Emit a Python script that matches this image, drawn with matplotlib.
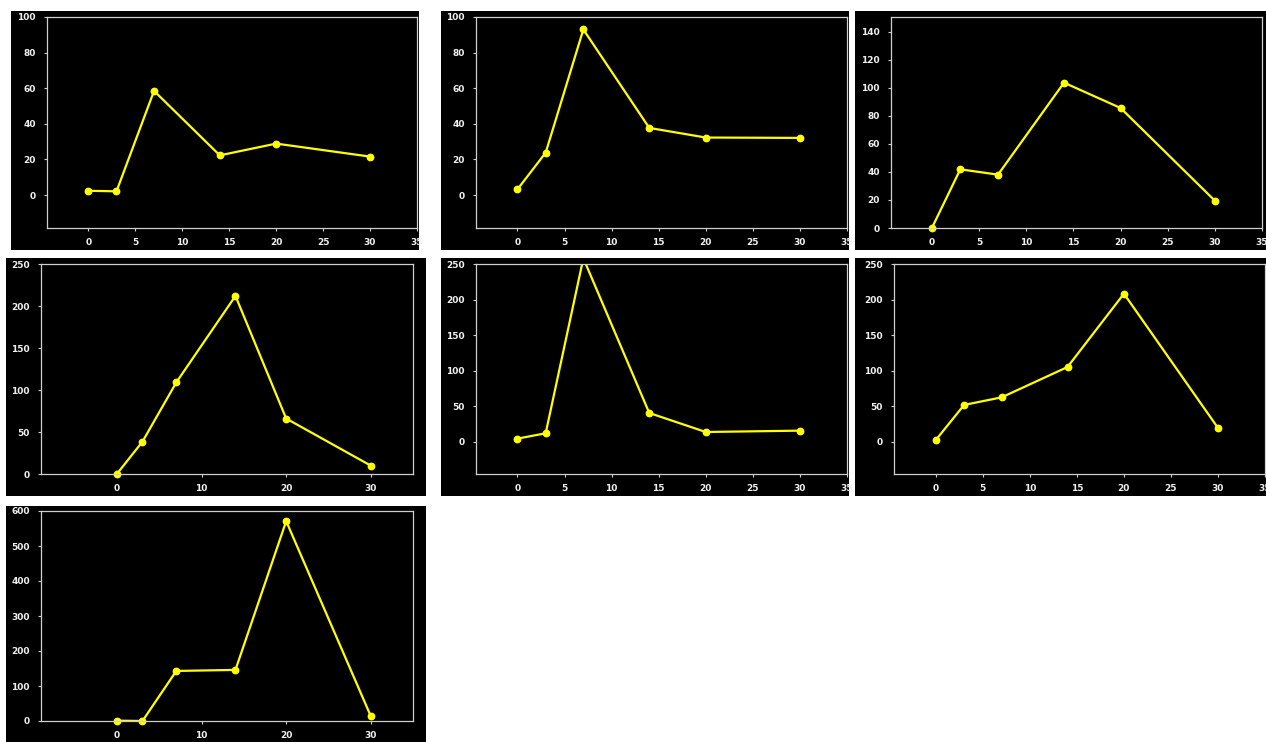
import numpy as np
import matplotlib.pyplot as plt
from matplotlib.patches import Rectangle

# sampling days, shared by every panel
days = [0, 3, 7, 14, 20, 30]

p1_vals = [2.4, 2.1, 58.5, 22.3, 28.9, 21.6]
p2_vals = [3.2, 23.8, 93.0, 37.7, 32.3, 32.1]
p3_vals = [0.2, 41.9, 38.1, 103.8, 85.7, 19.5]
p4_vals = [0.4, 38.5, 109.0, 212.0, 66.0, 10.0]
p5_vals = [4.7, 12.2, 258.0, 40.7, 14.0, 15.9]
p6_vals = [2.8, 52.0, 62.7, 105.3, 208.3, 19.7]
p7_vals = [1.0, 0.0, 143.0, 146.0, 571.0, 14.3]

W, H = 1266, 742
fig = plt.figure(figsize=(W / 100, H / 100), dpi=100)
fig.patch.set_facecolor('white')

FRAME_C = '#cfcfcf'
TEXT_C = '#f0f0f0'


def px_rect(x0, y0, x1, y1):
    # pixel box (top-left origin) -> figure fraction [l, b, w, h]
    return [x0 / W, 1 - y1 / H, (x1 - x0) / W, (y1 - y0) / H]


def panel(bg, frame, vals, xlim, ylim, xticks, yticks, clip=False):
    l, b, w, h = px_rect(*bg)
    fig.patches.append(Rectangle((l, b), w, h, transform=fig.transFigure,
                                 facecolor='black', edgecolor='none', zorder=-5))
    ax = fig.add_axes(px_rect(*frame))
    ax.set_facecolor('black')
    ax.plot(days, vals, color='#ffff00', lw=1.6, marker='o', ms=4.6,
            mfc='#ffff00', mec='#ffff00', clip_on=clip)
    ax.set_xlim(*xlim)
    ax.set_ylim(*ylim)
    ax.set_xticks(xticks)
    ax.set_yticks(yticks)
    for s in ax.spines.values():
        s.set_color(FRAME_C)
        s.set_linewidth(0.9)
    ax.tick_params(axis='x', colors=FRAME_C, length=2.5, width=0.8, pad=4.5,
                   labelcolor=TEXT_C, labelsize=6.5)
    ax.tick_params(axis='y', colors=FRAME_C, length=2.5, width=0.8, pad=5.5,
                   labelcolor=TEXT_C, labelsize=6.5)
    for lbl in ax.get_xticklabels() + ax.get_yticklabels():
        lbl.set_fontweight('bold')
    return ax


x5 = list(range(0, 40, 5))
x10 = [0, 10, 20, 30]

panel((11, 11, 419, 250), (47, 17, 417, 228), p1_vals, (-4.4, 35), (-18.5, 100), x5, range(0, 101, 20))
panel((441, 11, 849, 250), (476, 17, 847, 228), p2_vals, (-4.4, 35), (-18.5, 100), x5, range(0, 101, 20))
panel((855, 11, 1266, 250), (891, 17, 1262, 228), p3_vals, (-4.35, 35), (0, 150.7), x5, range(0, 141, 20))
panel((6, 258, 426, 496), (41, 264, 413, 474), p4_vals, (-9, 35), (0, 250), x10, range(0, 251, 50))
# peak of this panel runs past the top of the frame and is cut off there
panel((441, 258, 849, 496), (476, 264, 847, 474), p5_vals, (-4.4, 35), (-45, 250), x5, range(0, 251, 50), clip=True)
panel((855, 258, 1266, 496), (894, 264, 1265, 474), p6_vals, (-4.45, 35), (-45, 250), x5, range(0, 251, 50))
panel((6, 506, 426, 742), (41, 511, 413, 721), p7_vals, (-9, 35), (0, 600), x10, range(0, 601, 100))

plt.savefig('out.png', dpi=100, facecolor='white')
